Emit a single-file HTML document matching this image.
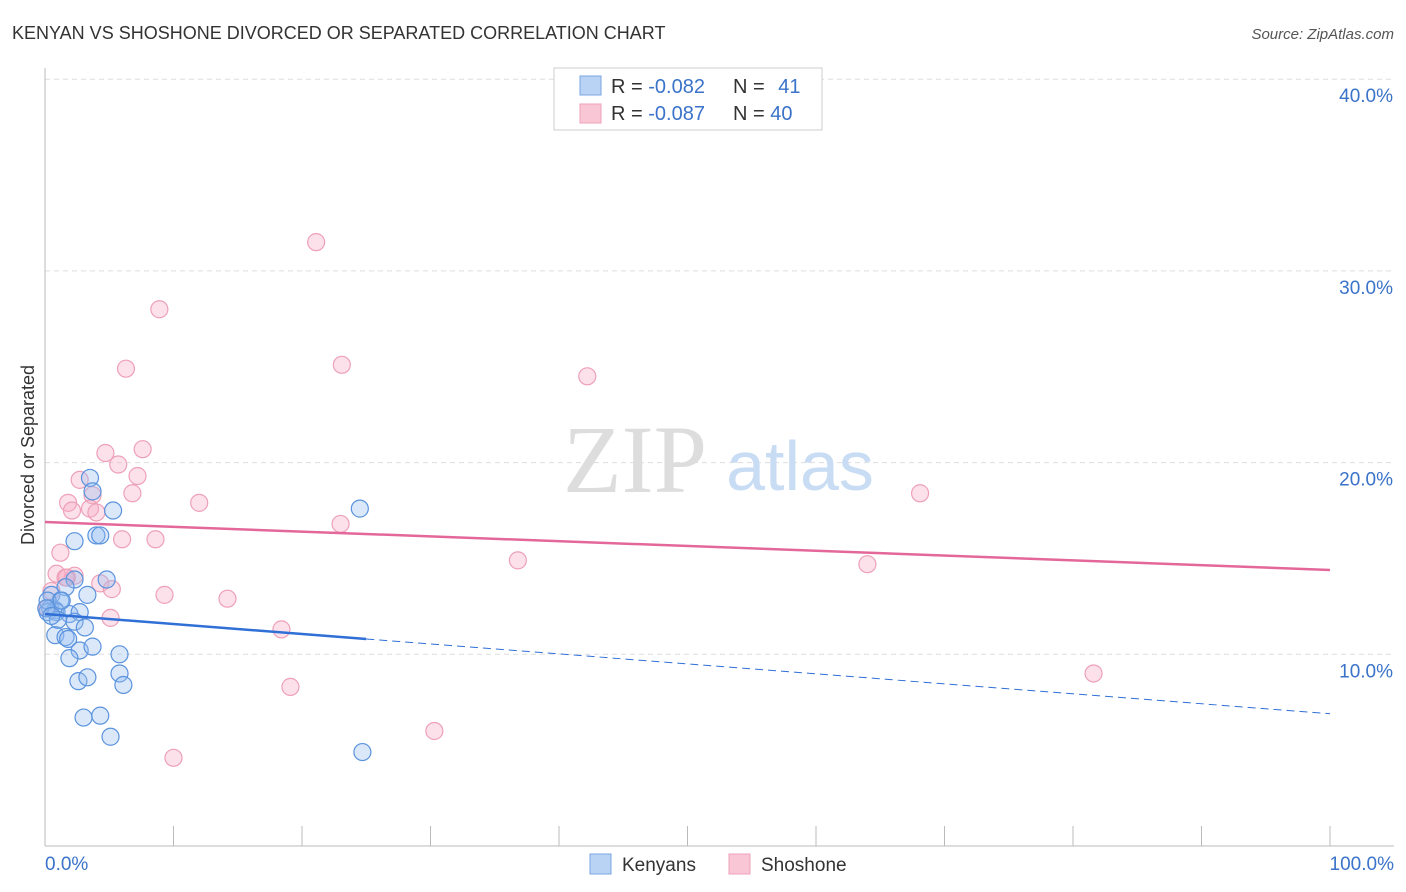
<!DOCTYPE html>
<html><head><meta charset="utf-8"><style>
body{margin:0;background:#fff;font-family:"Liberation Sans",sans-serif;}
svg{display:block}
</style></head><body>
<svg id="chart" width="1406" height="892">
<text x="12" y="39" font-size="18" fill="#333">KENYAN VS SHOSHONE DIVORCED OR SEPARATED CORRELATION CHART</text>
<text x="1394" y="39" font-size="15" fill="#555" font-style="italic" text-anchor="end">Source: ZipAtlas.com</text>
<g id="grid"></g>
<line x1="45" y1="68" x2="45" y2="846" stroke="#bbb"/>
<line x1="45" y1="846" x2="1394" y2="846" stroke="#bbb"/>
<text x="635" y="492" font-size="96" fill="#ddd" font-family="Liberation Serif,serif" text-anchor="middle">ZIP</text>
<text x="800" y="490" font-size="70" fill="#c8dcf4" text-anchor="middle">atlas</text>
<text transform="translate(34,455) rotate(-90)" font-size="18" fill="#333" text-anchor="middle">Divorced or Separated</text>
<g id="ticks"></g>
<g id="pts"></g>
<g id="lines"></g>
<g>
<rect x="554" y="68" width="268" height="62" fill="#fff" stroke="#ccc"/>
<rect x="580" y="76" width="21" height="19" fill="#b9d3f5" stroke="#7aa6e0"/>
<rect x="580" y="104" width="21" height="19" fill="#f9c6d6" stroke="#eea0b8"/>
<text x="611" y="93" font-size="20" fill="#333">R = <tspan fill="#3a73c9">-0.082</tspan></text>
<text x="733" y="93" font-size="20" fill="#333">N = <tspan fill="#3a73c9" dx="8">41</tspan></text>
<text x="611" y="120" font-size="20" fill="#333">R = <tspan fill="#3a73c9">-0.087</tspan></text>
<text x="733" y="120" font-size="20" fill="#333">N = <tspan fill="#3a73c9">40</tspan></text>
</g>
<g>
<rect x="590" y="854" width="21" height="20" fill="#b9d3f5" stroke="#7aa6e0"/>
<text x="622" y="871" font-size="19" fill="#333">Kenyans</text>
<rect x="729" y="854" width="21" height="20" fill="#f9c6d6" stroke="#eea0b8"/>
<text x="761" y="871" font-size="19" fill="#333">Shoshone</text>
</g>
</svg>
<script>
const yTicks=[10,20,30,40];
const xTickLabels=["0.0%","100.0%"];
const kenX=[3.5,3.7,5.3,2.3,4.0,4.3,4.8,2.3,24.5,3.3,1.6,0.5,1.2,0.4,0.8,0.2,0.9,1.9,2.7,2.3,3.1,0.8,1.6,1.8,2.7,3.7,1.9,5.8,2.6,3.3,5.8,6.1,3.0,4.3,5.1,24.7,0.2,1.0,0.1,0.5,1.3];
const kenY=[19.2,18.5,17.5,15.9,16.2,16.2,13.9,13.9,17.6,13.1,13.5,13.1,12.8,12.4,12.3,12.2,12.2,12.1,12.2,11.7,11.4,11.0,10.9,10.8,10.2,10.4,9.8,10.0,8.6,8.8,9.0,8.4,6.7,6.8,5.7,4.9,12.8,11.8,12.4,12.0,12.8];
const shoX=[21.1,8.9,6.3,23.1,42.2,7.6,4.7,5.7,7.2,2.7,3.7,6.8,1.8,2.1,3.5,4.0,12.0,23.0,6.0,8.6,1.2,36.8,68.1,64.0,0.9,2.3,1.7,4.3,5.2,9.3,14.2,5.1,18.4,81.6,19.1,30.3,10.0,0.5,0.2,1.6];
const shoY=[31.5,28.0,24.9,25.1,24.5,20.7,20.5,19.9,19.3,19.1,18.3,18.4,17.9,17.5,17.6,17.4,17.9,16.8,16.0,16.0,15.3,14.9,18.4,14.7,14.2,14.1,14.0,13.7,13.4,13.1,12.9,11.9,11.3,9.0,8.3,6.0,4.6,13.3,12.4,14.0];
const kenLine=[[0,12.1],[25,10.8],[100,6.9]];
const shoLine=[[0,16.9],[100,14.4]];
const NS="http://www.w3.org/2000/svg";
const X=v=>45+v*12.85, Y=v=>846-v*19.17;
function mk(t,a,p){const e=document.createElementNS(NS,t);for(const k in a)e.setAttribute(k,a[k]);p.appendChild(e);return e;}
const grid=document.getElementById('grid'),ticks=document.getElementById('ticks');
yTicks.forEach(t=>{
 const l=mk('line',{x1:45,x2:1394,y1:Y(t),y2:Y(t),stroke:'#ddd','stroke-dasharray':'5,4'},grid);
 
 
 const tx=mk('text',{x:1393,y:Y(t)+23,'font-size':19,fill:'#3a73c9','text-anchor':'end'},ticks);
 tx.textContent=t.toFixed(1)+'%';
 
 
});
for(let i=1;i<=10;i++){
 const l=mk('line',{x1:X(i*10),x2:X(i*10),y1:826,y2:846,stroke:'#bbb'},ticks);
 
 
}
[[0,'start',45],[1,'end',1394]].forEach(([i,a,x])=>{
 const t=mk('text',{x:x,y:870,'font-size':19,fill:'#3a73c9','text-anchor':a},ticks);
 t.textContent=xTickLabels[i];
 
 
});
const pts=document.getElementById('pts');
shoX.forEach((v,i)=>{
 const c=mk('circle',{cx:X(v),cy:Y(shoY[i]),r:8.5,fill:'rgba(246,170,195,0.35)',stroke:'#eea0b8','stroke-width':1.2},pts);
 
 
});
kenX.forEach((v,i)=>{
 const c=mk('circle',{cx:X(v),cy:Y(kenY[i]),r:8.5,fill:'rgba(150,190,240,0.35)',stroke:'#5b93dd','stroke-width':1.2},pts);
 
 
});
const lines=document.getElementById('lines');
const k1=mk('line',{x1:X(kenLine[0][0]),y1:Y(kenLine[0][1]),x2:X(kenLine[1][0]),y2:Y(kenLine[1][1]),stroke:'#2f6fd6','stroke-width':2.5},lines);


const k2=mk('line',{x1:X(kenLine[1][0]),y1:Y(kenLine[1][1]),x2:X(kenLine[2][0]),y2:Y(kenLine[2][1]),stroke:'#2f6fd6','stroke-width':1,'stroke-dasharray':'8,5'},lines);


const s1=mk('line',{x1:X(shoLine[0][0]),y1:Y(shoLine[0][1]),x2:X(shoLine[1][0]),y2:Y(shoLine[1][1]),stroke:'#e4679a','stroke-width':2.5},lines);


</script>
</body></html>
